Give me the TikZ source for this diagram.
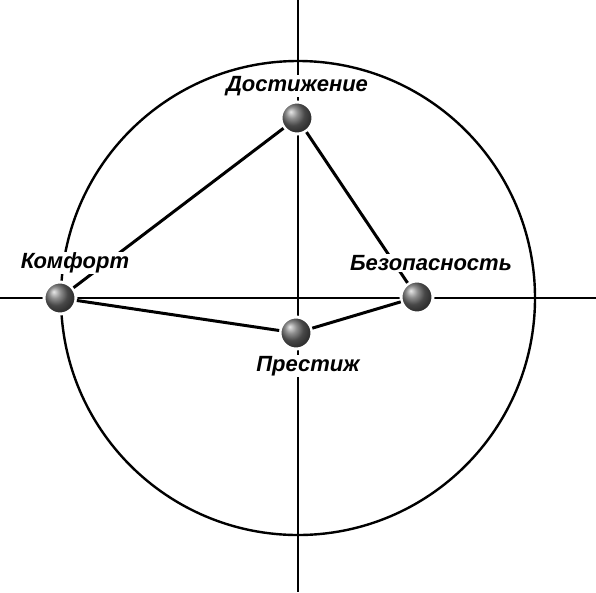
\documentclass[tikz,border=0pt]{standalone}
\usepackage{fontspec}
\setmainfont{Liberation Sans}
\usepackage{tikz}
\usetikzlibrary{shadings}

\begin{document}
\begin{tikzpicture}[
            x = 1pt, y = -1pt, % pixel-like units, y down
            line cap = butt,
            thick % line style
        ]

        \tikzstyle{ball}=[
            circle,
            draw = white,
            line width = 3pt,
            shading = ball,
            ball color = black!60,
            minimum size = 32pt,
            inner sep = 0pt,
            outer sep = 1pt
        ]
        \tikzstyle{label}=[
            fill = white,
            inner sep = 1pt,
            font = \fontsize{22}{25}\selectfont\bfseries\itshape
        ]
        \tikzstyle{link}=[line width = 3pt]

        \useasboundingbox (0,0) rectangle (596,592);

        % axes and circle
        \coordinate (T) at (298,0);
        \coordinate (B) at (298,592);
        \coordinate (L) at (0,298);
        \coordinate (R) at (596,298);
        \coordinate (O) at (298,298);
        \draw[line width = 2pt] (T) -- (B);
        \draw[line width = 2pt] (L) -- (R);
        \draw[line width = 2.4pt] (O) circle (237);

        % values
        \node[ball] (dost) at (297,118) {};
        \node[ball] (komf) at (60,298) {};
        \node[ball] (bez) at (417,297) {};
        \node[ball] (prest) at (296,333) {};

        \path[link] (komf) edge (dost);
        \path[link] (dost) edge (bez);
        \path[link] (komf) edge (prest);
        \path[link] (prest) edge (bez);

        % labels
        \node[label] (dostL) at (297,86) {Достижение};
        \node[label] (komfL) at (75,263) {Комфорт};
        \node[label] (bezL) at (431,263) {Безопасность};
        \node[label] (prestL) at (308,366) {Престиж};

\end{tikzpicture}
\end{document}
